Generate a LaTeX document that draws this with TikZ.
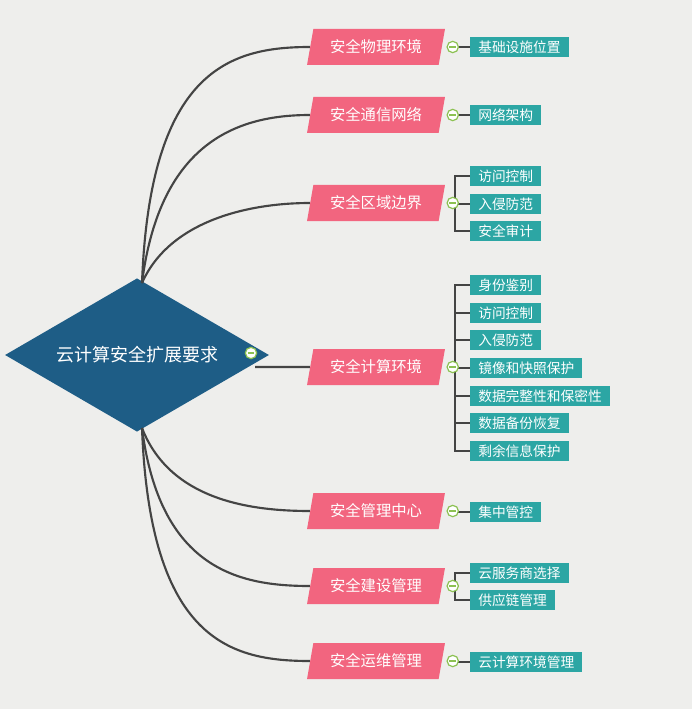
\documentclass[tikz,border=0pt]{standalone}
\usepackage{fontspec}
\setmainfont{Noto Sans CJK SC}
\usetikzlibrary{shapes.geometric}
\definecolor{bgc}{HTML}{EEEEEC}
\definecolor{rootc}{HTML}{1E5D86}
\definecolor{topicc}{HTML}{F2657F}
\definecolor{leafc}{HTML}{2CA6A4}
\definecolor{linec}{HTML}{444444}
\definecolor{foldc}{HTML}{8CC152}
\begin{document}
\begin{tikzpicture}[x=0.75pt,y=-0.75pt,
  topic/.style={trapezium,trapezium left angle=72,trapezium right angle=108,
    trapezium stretches=true,minimum width=104pt,minimum height=27pt,
    fill=topicc,text=white,font=\fontsize{11.5}{13}\selectfont,inner sep=0pt},
  leaf/.style={anchor=west,fill=leafc,text=white,minimum height=15.5pt,
    inner xsep=6pt,inner ysep=0pt,font=\fontsize{10.3}{12}\selectfont},
  conn/.style={draw=linec,line width=1.6pt},
  fold/.style={circle,draw=foldc,fill=white,line width=0.9pt,minimum size=8.5pt,inner sep=0pt,
    path picture={\draw[foldc,line width=1pt] ([xshift=-2.5pt]path picture bounding box.center) -- ([xshift=2.5pt]path picture bounding box.center);}}]
\fill[bgc] (0,0) rectangle (692,709);
\useasboundingbox (0,0) rectangle (692,709);
% root
\node[diamond,fill=rootc,minimum width=198pt,minimum height=115pt,inner sep=0pt] (root) at (137,355) {};
\node[text=white,font=\fontsize{13.5}{15}\selectfont] (rootlabel) at (137,355) {云计算安全扩展要求};
\node[fold] (rootfold) at (251,353) {};
% topics
\node[topic] (t1) at (376,47) {安全物理环境};
\node[topic] (t2) at (376,115) {安全通信网络};
\node[topic] (t3) at (376,203) {安全区域边界};
\node[topic] (t4) at (376,367) {安全计算环境};
\node[topic] (t5) at (376,511) {安全管理中心};
\node[topic] (t6) at (376,586) {安全建设管理};
\node[topic] (t7) at (376,661) {安全运维管理};
\coordinate (rtop) at (142,283);
\coordinate (rbot) at (142,428);
\draw[conn] (rtop) .. controls (150,70) and (230,47) .. (t1.west);
\draw[conn] (rtop) .. controls (160,140) and (240,115) .. (t2.west);
\draw[conn] (rtop) .. controls (170,220) and (250,203) .. (t3.west);
\draw[conn] (255,367) -- (t4.west);
\draw[conn] (rbot) .. controls (170,500) and (250,511) .. (t5.west);
\draw[conn] (rbot) .. controls (160,570) and (240,586) .. (t6.west);
\draw[conn] (rbot) .. controls (150,640) and (230,661) .. (t7.west);
% leaves
\foreach \t/\y/\lbl [count=\i] in {
  1/47/基础设施位置, 2/115/网络架构,
  3/176/访问控制, 3/204/入侵防范, 3/231/安全审计,
  4/285/身份鉴别, 4/313/访问控制, 4/340/入侵防范, 4/368/镜像和快照保护,
  4/396/数据完整性和保密性, 4/423/数据备份恢复, 4/451/剩余信息保护,
  5/512/集中管控, 6/573/云服务商选择, 6/600/供应链管理, 7/662/云计算环境管理}{
  \node[leaf] (l\i) at (470,\y) {\lbl};
  \draw[conn,line width=1.2pt] (t\t.east) ++(8,0) coordinate (c\i) -- ++(5,0) |- (l\i.west);
}
\foreach \t in {1,...,7}{
  \node[fold] (f\t) at ([xshift=8]t\t.east) {};
}
\end{tikzpicture}
\end{document}
